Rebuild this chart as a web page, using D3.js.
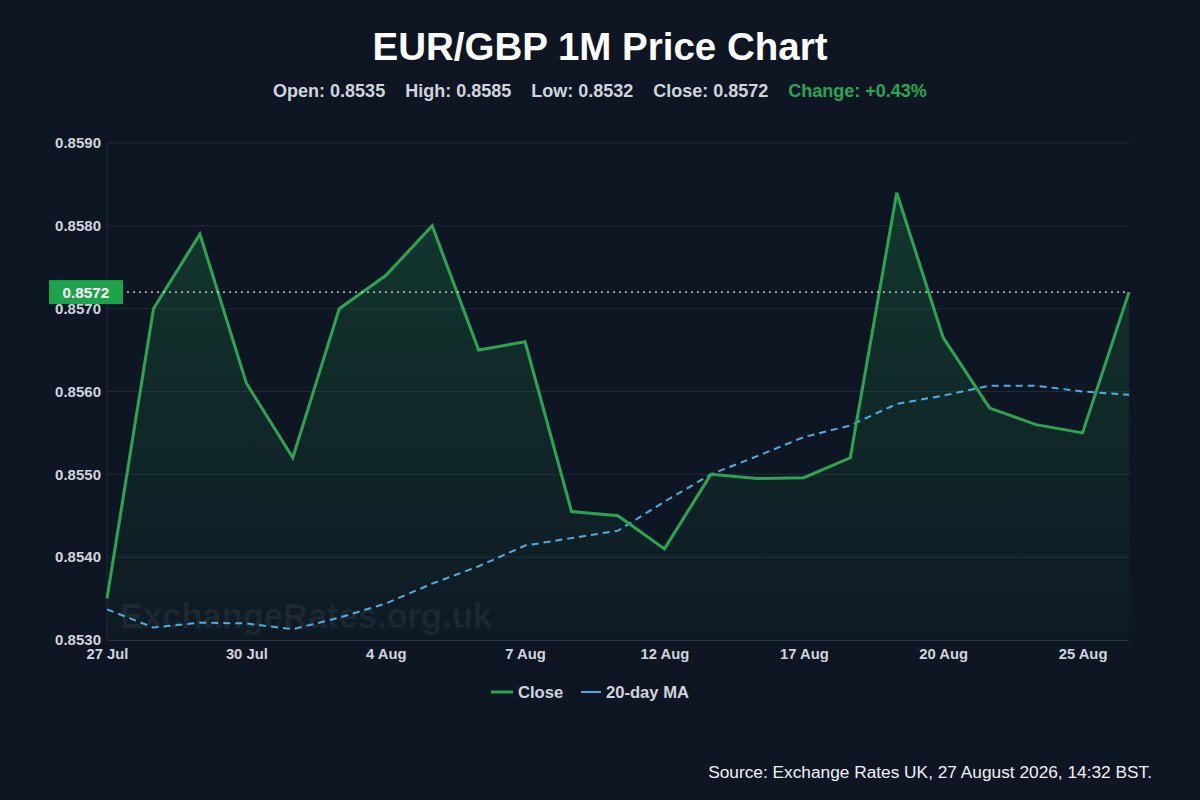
<!DOCTYPE html>
<html><head><meta charset="utf-8">
<script src="https://cdn.jsdelivr.net/npm/d3@7"></script>
<style>
html,body{margin:0;padding:0;background:#0e1623;}
svg{display:block;font-family:"Liberation Sans",Arial,Helvetica,sans-serif;}
</style></head>
<body>
<svg id="chart" width="1200" height="800"></svg>
<script>
const dates = ["27 Jul","28 Jul","29 Jul","30 Jul","31 Jul","3 Aug","4 Aug","5 Aug","6 Aug","7 Aug","10 Aug","11 Aug","12 Aug","13 Aug","14 Aug","17 Aug","18 Aug","19 Aug","20 Aug","21 Aug","24 Aug","25 Aug","26 Aug"];
const closeValues = [0.8535,0.8570,0.8579,0.8561,0.8552,0.8570,0.8574,0.8580,0.8565,0.8566,0.85455,0.8545,0.8541,0.8550,0.85495,0.85496,0.8552,0.8584,0.85665,0.8558,0.8556,0.8555,0.8572];
const maValues = [0.85337,0.85315,0.85321,0.85320,0.85313,0.85327,0.85344,0.85368,0.85389,0.85414,0.85423,0.85432,0.85467,0.85500,0.85522,0.85545,0.85559,0.85585,0.85595,0.85607,0.85607,0.85600,0.85596];
const tickLabels = ["27 Jul","30 Jul","4 Aug","7 Aug","12 Aug","17 Aug","20 Aug","25 Aug"];
const yTicks = [0.8530,0.8540,0.8550,0.8560,0.8570,0.8580,0.8590];
const stats = [["Open: ","0.8535"],["High: ","0.8585"],["Low: ","0.8532"],["Close: ","0.8572"]];
const changeText = "Change: +0.43%";
const lastClose = 0.8572;
const seriesNames = ["Close","20-day MA"];

const svg = d3.select("#chart");
const W = 1200, H = 800;
const m = {left:107, right:71, top:143, bottom:160};
const x = d3.scalePoint().domain(dates).range([m.left, W - m.right]);
const y = d3.scaleLinear().domain([0.8530, 0.8590]).range([H - m.bottom, m.top]);

svg.append("rect").attr("width",W).attr("height",H).attr("fill","#0e1623");

const defs = svg.append("defs");
const grad = defs.append("linearGradient").attr("id","areaGrad").attr("x1",0).attr("y1",0).attr("x2",0).attr("y2",1);
grad.append("stop").attr("offset","0%").attr("stop-color","#22a24e").attr("stop-opacity",0.24);
grad.append("stop").attr("offset","100%").attr("stop-color","#22a24e").attr("stop-opacity",0.02);

// title
svg.append("text").attr("x",W/2).attr("y",60).attr("text-anchor","middle")
  .attr("fill","#ffffff").attr("font-size",38.5).attr("font-weight","bold").text("EUR/GBP 1M Price Chart");
const sub = svg.append("text").attr("x",W/2).attr("y",97).attr("text-anchor","middle")
  .attr("font-size",18).attr("font-weight","bold").attr("fill","#d0d5dd");
stats.forEach((s,i)=>{ sub.append("tspan").attr("dx", i===0?0:20).text(s[0]+s[1]); });
sub.append("tspan").attr("dx",20).attr("fill","#26a752").text(changeText);

// grid
const gGrid = svg.append("g");
gGrid.selectAll("line").data(yTicks.slice(1)).join("line")
  .attr("x1",m.left).attr("x2",W-m.right).attr("y1",d=>y(d)).attr("y2",d=>y(d))
  .attr("stroke","#1f2937").attr("stroke-width",1);
svg.append("line").attr("x1",m.left).attr("x2",m.left).attr("y1",m.top).attr("y2",H-m.bottom)
  .attr("stroke","#1f2937");

// watermark
svg.append("text").attr("x",120).attr("y",628).attr("font-size",34.5).attr("font-weight","bold")
  .attr("fill","#ffffff").attr("fill-opacity",0.06).text("ExchangeRates.org.uk");

// area
const area = d3.area().x((d,i)=>x(dates[i])).y0(H-m.bottom).y1(d=>y(d));
svg.append("path").datum(closeValues).attr("d",area).attr("fill","url(#areaGrad)");

// MA line
const line = d3.line().x((d,i)=>x(dates[i])).y(d=>y(d));
svg.append("path").datum(maValues).attr("d",line).attr("fill","none")
  .attr("stroke","#4aaee3").attr("stroke-width",2).attr("stroke-dasharray","7,5");

// close line
svg.append("path").datum(closeValues).attr("d",line).attr("fill","none")
  .attr("stroke","#2ca552").attr("stroke-width",3).attr("stroke-linejoin","miter");

// last close dotted line
svg.append("line").attr("x1",m.left+20).attr("x2",W-m.right).attr("y1",y(lastClose)).attr("y2",y(lastClose))
  .attr("stroke","#e5e7eb").attr("stroke-width",1.2).attr("stroke-dasharray","2,4");

// x axis
const xAxis = d3.axisBottom(x).tickValues(tickLabels).tickSize(0).tickPadding(8);
const gx = svg.append("g").attr("transform",`translate(0,${H-m.bottom})`).call(xAxis);
gx.select(".domain").attr("stroke","#2a3443");
gx.selectAll("text").attr("fill","#d0d5dd").attr("font-size",14.8).attr("font-weight","bold")
  .attr("font-family","Liberation Sans, Arial, sans-serif");

// y axis
const yAxis = d3.axisLeft(y).tickValues(yTicks).tickFormat(d3.format(".4f")).tickSize(0).tickPadding(6);
const gy = svg.append("g").attr("transform",`translate(${m.left},0)`).call(yAxis);
gy.select(".domain").remove();
gy.selectAll("text").attr("fill","#d0d5dd").attr("font-size",15).attr("font-weight","bold")
  .attr("font-family","Liberation Sans, Arial, sans-serif");

// last close label
const ly = y(lastClose);
svg.append("rect").attr("x",49).attr("y",ly-12).attr("width",74).attr("height",24).attr("fill","#1fa34a");
svg.append("text").attr("x",86).attr("y",ly+5.5).attr("text-anchor","middle").attr("fill","#ffffff")
  .attr("font-size",15.3).attr("font-weight","bold").text(d3.format(".4f")(lastClose));

// legend
const lg = svg.append("g").attr("transform","translate(491,692)");
lg.append("line").attr("x1",0).attr("x2",22).attr("y1",0).attr("y2",0).attr("stroke","#2ca552").attr("stroke-width",3);
lg.append("text").attr("x",27).attr("y",6).attr("fill","#d0d5dd").attr("font-size",16.6).attr("font-weight","bold").text(seriesNames[0]);
lg.append("line").attr("x1",90).attr("x2",110).attr("y1",0).attr("y2",0).attr("stroke","#4aaee3").attr("stroke-width",2);
lg.append("text").attr("x",115).attr("y",6).attr("fill","#d0d5dd").attr("font-size",16.6).attr("font-weight","bold").text(seriesNames[1]);

// source
svg.append("text").attr("x",1152).attr("y",778).attr("text-anchor","end").attr("fill","#f0f2f5")
  .attr("font-size",17.3).text("Source: Exchange Rates UK, 27 August 2026, 14:32 BST.");
</script>
</body></html>
